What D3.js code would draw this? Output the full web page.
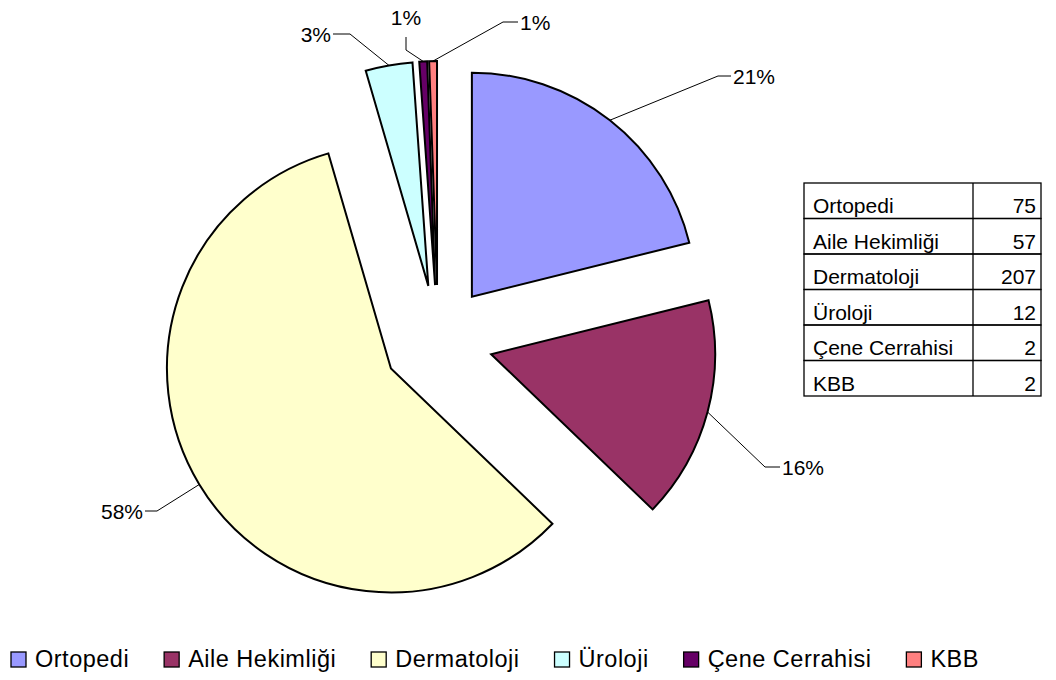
<!DOCTYPE html>
<html>
<head>
<meta charset="utf-8">
<script src="https://cdn.jsdelivr.net/npm/d3@7"></script>
<style>
  body { margin: 0; background: #fff; }
  svg { font-family: "Liberation Sans", Arial, sans-serif; }
</style>
</head>
<body>
<div id="chart"></div>
<script>
// data
var categories = ["Ortopedi", "Aile Hekimliği", "Dermatoloji", "Üroloji", "Çene Cerrahisi", "KBB"];
var values = [75, 57, 207, 12, 2, 2];
var colors = ["#9999FF", "#993366", "#FFFFCC", "#CCFFFF", "#660066", "#FF8080"];

// hand placed data labels (like the excel original): elbow + label anchor, relative to pie centre
var labelLayout = [
  {ex: 280, ey: -264, tx: 295, ty: -264, side: "right"},
  {ex: 327, ey: 127, tx: 344, ty: 127, side: "right"},
  {ex: -281, ey: 171, tx: -295, ty: 171, side: "left"},
  {ex: -88, ey: -306, tx: -107, ty: -306, side: "left"},
  {ex: -32, ey: -290, tx: -32, ty: -323, side: "top"},
  {ex: 65, ey: -318, tx: 82, ty: -318, side: "right"}
];

const width = 1056, height = 680;
const cx = 438, cy = 340, radius = 224, explode = 55;

const svg = d3.select("#chart")
  .append("svg")
  .attr("width", width)
  .attr("height", height);

const total = d3.sum(values);
const data = categories.map((c, i) => ({name: c, value: values[i], color: colors[i], lbl: labelLayout[i]}));

const pie = d3.pie()
  .value(d => d.value)
  .sort(null)
  .startAngle(0)
  .endAngle(2 * Math.PI);

const arc = d3.arc()
  .innerRadius(0)
  .outerRadius(radius);

const arcs = pie(data);

// offset of each slice along its middle angle
function shift(a) {
  const mid = (a.startAngle + a.endAngle) / 2;
  return [Math.sin(mid) * explode, -Math.cos(mid) * explode];
}

const g = svg.append("g")
  .attr("transform", `translate(${cx},${cy})`);

g.selectAll("path.slice")
  .data(arcs)
  .join("path")
  .attr("class", "slice")
  .attr("transform", d => "translate(" + shift(d) + ")")
  .attr("d", arc)
  .attr("fill", d => d.data.color)
  .attr("stroke", "#000")
  .attr("stroke-width", 2)
  .attr("stroke-linejoin", "miter");

// leader lines + percentages
const fmt = v => Math.round(v / total * 100) + "%";

arcs.forEach(d => {
  const mid = (d.startAngle + d.endAngle) / 2;
  const s = shift(d);
  const px = s[0] + Math.sin(mid) * radius;
  const py = s[1] - Math.cos(mid) * radius;
  const l = d.data.lbl;
  let endX = l.tx, endY = l.ty;
  if (l.side == "right") endX = l.tx - 2;
  if (l.side == "left") endX = l.tx + 2;
  if (l.side == "top") endY = l.ty + 20;

  g.append("path")
    .attr("d", `M${px},${py}L${l.ex},${l.ey}L${endX},${endY}`)
    .attr("fill", "none")
    .attr("stroke", "#000")
    .attr("stroke-width", 1);

  g.append("text")
    .attr("x", l.tx)
    .attr("y", l.ty)
    .attr("dy", "0.36em")
    .attr("text-anchor", l.side == "right" ? "start" : (l.side == "left" ? "end" : "middle"))
    .style("font-size", "21px")
    .text(fmt(d.data.value));
});

// data table on the right
const tbl = {x: 804, y: 183, w: 237, split: 973, rowH: 35.5};
const table = svg.append("g");

table.selectAll("rect")
  .data(data)
  .join("rect")
  .attr("x", tbl.x)
  .attr("y", (d, i) => tbl.y + i * tbl.rowH)
  .attr("width", tbl.w)
  .attr("height", tbl.rowH)
  .attr("fill", "none")
  .attr("stroke", "#000")
  .attr("stroke-width", 1.3);

table.append("line")
  .attr("x1", tbl.split).attr("x2", tbl.split)
  .attr("y1", tbl.y).attr("y2", tbl.y + data.length * tbl.rowH)
  .attr("stroke", "#000")
  .attr("stroke-width", 1.3);

table.selectAll("text.name")
  .data(data)
  .join("text")
  .attr("class", "name")
  .attr("x", tbl.x + 9)
  .attr("y", (d, i) => tbl.y + i * tbl.rowH + 30)
  .style("font-size", "21px")
  .text(d => d.name);

table.selectAll("text.val")
  .data(data)
  .join("text")
  .attr("class", "val")
  .attr("x", tbl.x + tbl.w - 5)
  .attr("y", (d, i) => tbl.y + i * tbl.rowH + 30)
  .attr("text-anchor", "end")
  .style("font-size", "21px")
  .text(d => d.value);

// legend along the bottom
const legend = svg.append("g");
let lx = 11;
data.forEach(d => {
  legend.append("rect")
    .attr("x", lx)
    .attr("y", 652)
    .attr("width", 15)
    .attr("height", 15)
    .attr("fill", d.color)
    .attr("stroke", "#000")
    .attr("stroke-width", 1.3);
  const t = legend.append("text")
    .attr("x", lx + 24)
    .attr("y", 667)
    .style("font-size", "23.5px")
    .style("letter-spacing", "0.5px")
    .text(d.name);
  lx = lx + 24 + t.node().getComputedTextLength() + 35;
});
</script>
</body>
</html>
